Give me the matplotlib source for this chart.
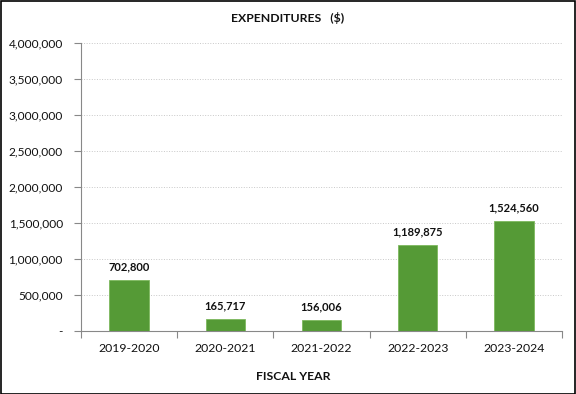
import numpy as np
import matplotlib.pyplot as plt
from matplotlib.ticker import FuncFormatter, FixedLocator
from matplotlib.patches import Rectangle

years = ['2019-2020', '2020-2021', '2021-2022', '2022-2023', '2023-2024']
expenditures = [702800, 165717, 156006, 1189875, 1524560]

plt.rcParams['font.family'] = ['Lato', 'DejaVu Sans']

fig = plt.figure(figsize=(5.76, 3.94), dpi=100)
ax = fig.add_axes([81 / 576, 1 - 331 / 394, 481 / 576, 288 / 394])

x = np.arange(len(years))
ax.bar(x, expenditures, width=0.41, color='#559A36', edgecolor='#7DB85E', linewidth=0.6, zorder=3)

# value labels above the bars
for xi, v in zip(x, expenditures):
    ax.text(xi, v + 110000, f'{v:,}', ha='center', va='bottom', fontsize=8, fontweight='bold', color='#111111')

ax.set_ylim(0, 4000000)
ax.set_xlim(-0.5, len(years) - 0.5)
ax.set_yticks(np.arange(0, 4000001, 500000))
ax.yaxis.set_major_formatter(FuncFormatter(lambda v, p: '-' if v == 0 else f'{int(v):,}'))
ax.set_xticks(x)
ax.set_xticklabels(years)
ax.xaxis.set_minor_locator(FixedLocator(np.arange(-0.5, len(years), 1.0)))
ax.tick_params(axis='x', which='major', length=0, pad=9, labelsize=8.8, labelcolor='#111111')
ax.tick_params(axis='x', which='minor', length=5, color='#888888', width=0.8)
ax.tick_params(axis='y', length=5, color='#888888', width=0.8, labelsize=8.6, labelcolor='#111111', pad=8)

ax.grid(axis='y', color='#C8C8C8', linestyle=':', linewidth=0.7, zorder=0)
for s in ['top', 'right']:
    ax.spines[s].set_visible(False)
for s in ['left', 'bottom']:
    ax.spines[s].set_color('#888888')
    ax.spines[s].set_linewidth(0.8)

fig.text(288 / 576, 1 - 18 / 394, 'EXPENDITURES   ($)', ha='center', va='center',
         fontsize=8.8, fontweight='bold', color='#111111')
fig.text(293 / 576, 1 - 376 / 394, 'FISCAL YEAR', ha='center', va='center',
         fontsize=8.8, fontweight='bold', color='#111111')

fig.patches.append(Rectangle((0.001, 0.001), 0.997, 0.996, transform=fig.transFigure,
                             fill=False, edgecolor='black', linewidth=1.2))

fig.savefig('out.png', dpi=100)
